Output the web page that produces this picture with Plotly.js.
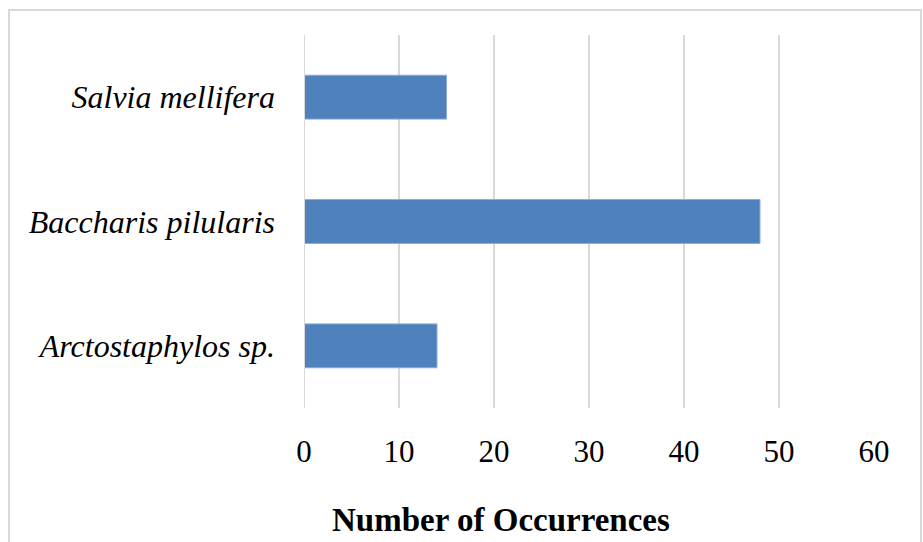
<!DOCTYPE html>
<html><head><meta charset="utf-8">
<script src="https://cdn.plot.ly/plotly-3.0.1.min.js"></script>
<style>html,body{margin:0;padding:0;background:#fff}#chart{width:923px;height:542px}</style>
</head><body><div id="chart"></div>
<script>
const categories = ["Arctostaphylos sp.", "Baccharis pilularis", "Salvia mellifera"];
const occurrences = [14, 48, 15];
const xTicks = [0, 10, 20, 30, 40, 50, 60];
const xTitle = "Number of Occurrences";

const FONT = "Liberation Serif, DejaVu Serif, serif";
const trace = {
  type: "bar", orientation: "h",
  y: categories, x: occurrences,
  marker: {color: "#4f81bd", line: {color: "#8eaad8", width: 1}},
  hoverinfo: "skip"
};
const layout = {
  width: 923, height: 542,
  margin: {l: 304, r: 49, t: 35, b: 134},
  paper_bgcolor: "#fff", plot_bgcolor: "#fff",
  bargap: 0.647,
  showlegend: false,
  font: {family: FONT, color: "#000"},
  xaxis: {
    range: [0, 60], tickvals: xTicks, ticktext: xTicks.map(String),
    showgrid: true, gridcolor: "#d9d9d9", gridwidth: 2,
    zeroline: false, showline: false, ticks: "",
    tickfont: {family: FONT, size: 31, color: "#000"},
    ticklabelstandoff: 22, fixedrange: true
  },
  yaxis: {
    type: "category", categoryorder: "array", categoryarray: categories,
    range: [-0.5, 2.5],
    showgrid: false, zeroline: false, showline: false, ticks: "",
    tickfont: {family: FONT, size: 32, color: "#000", style: "italic"},
    ticklabelstandoff: 28, fixedrange: true
  },
  shapes: [
    {type: "line", xref: "x", yref: "paper", x0: 0, x1: 0, y0: 0, y1: 1,
     line: {color: "#d9d9d9", width: 2}},
    {type: "rect", xref: "paper", yref: "paper",
     x0: (9 - 304) / 570, x1: (921 - 304) / 570,
     y0: (408 - 560) / 373, y1: (408 - 10) / 373,
     line: {color: "#d9d9d9", width: 2}, fillcolor: "rgba(0,0,0,0)", layer: "below"}
  ],
  annotations: [
    {text: "<b>" + xTitle + "</b>", xref: "paper", yref: "paper",
     x: (501 - 304) / 570, y: (408 - 520) / 373, xanchor: "center", yanchor: "middle",
     showarrow: false, font: {family: FONT, size: 33, color: "#000"}}
  ]
};
Plotly.newPlot("chart", [trace], layout, {displayModeBar: false, staticPlot: true});
</script></body></html>
